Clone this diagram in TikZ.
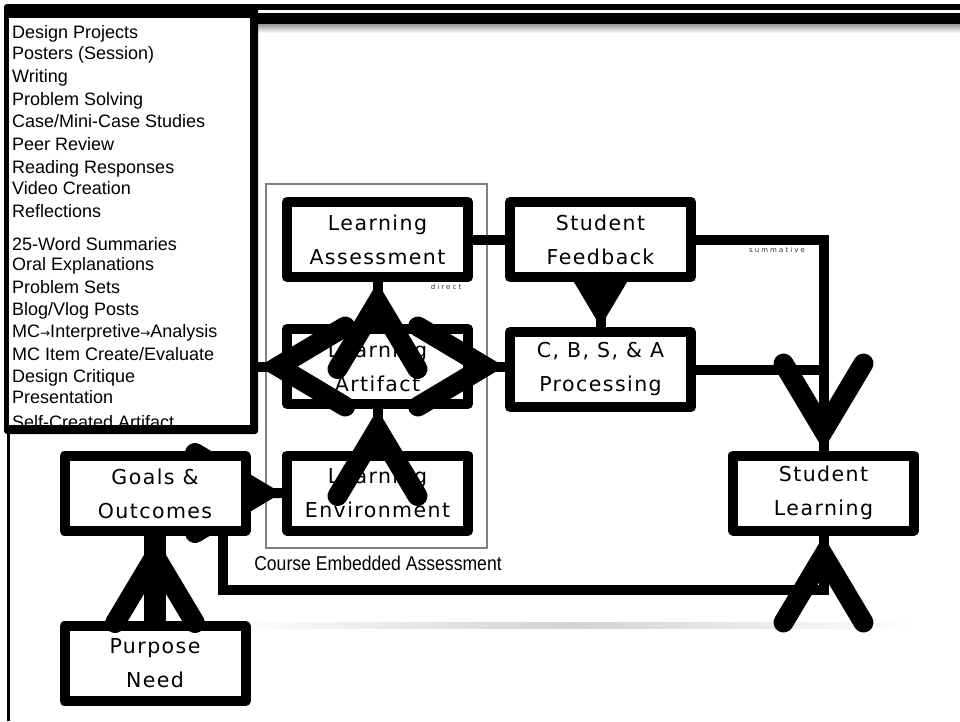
\documentclass[tikz,border=0pt]{standalone}
\usepackage{fontspec}
\setmainfont{Liberation Sans}
\newfontfamily\boxfont[LetterSpace=7]{DejaVu Sans}
\newfontfamily\tinyfont[LetterSpace=30]{DejaVu Sans}
\newfontfamily\listfont{Liberation Sans}
\newfontfamily\ceafont[FakeStretch=0.88]{Liberation Sans}
\newfontfamily\arrfont{DejaVu Sans}
\newcommand{\rarr}{{\arrfont\fontsize{12}{12}\selectfont →}}
\newcommand{\vhead}[2]{\draw[vhead, shift={(#1)}, rotate=#2] (-87,40) -- (-20,0) -- (-87,-40);}
\pgfdeclarelayer{bg}
\pgfsetlayers{bg,main}
\begin{document}
\begin{tikzpicture}[x=1pt,y=-1pt,
  box/.style={draw=black, line width=10pt, line join=round, fill=white,
    minimum width=181pt, minimum height=75pt, inner sep=0pt, align=center,
    font=\boxfont\fontsize{20.5}{34}\selectfont},
  conn/.style={line width=10pt, line join=miter},
  vhead/.style={line width=20pt, line cap=round, line join=miter},
  listline/.style={anchor=base west, inner sep=0pt, font=\listfont\fontsize{18}{18}\selectfont},
  tiny/.style={inner sep=0pt, text=black!80, font=\tinyfont\fontsize{7}{8}\selectfont}
]
\useasboundingbox (0,0) rectangle (960,721);

% boxes
\node[box] (LA)   at (377.5,239.5) {Learning\\Assessment};
\node[box] (LArt) at (377.5,366.5) {Learning\\Artifact};
\node[box] (LE)   at (377.5,493)   {Learning\\Environment};
\node[box] (GO)   at (155,493.5)   {Goals \&\\Outcomes};
\node[box] (PN)   at (155,663.5)   {Purpose\\Need};
\node[box] (SF)   at (600.5,239.5) {Student\\Feedback};
\node[box] (CB)   at (600.5,369.5) {C, B, S, \& A\\Processing};
\node[box] (SL)   at (823.5,493)   {Student\\Learning};

% list box
\node[fill=black, rounded corners=3pt, minimum width=254pt, minimum height=430pt, inner sep=0pt] (list) at (131,219) {};
\fill[white] (9,18) rectangle (250,425);
\begin{scope}
  \clip (9,18) rectangle (250,425);
  \foreach \i/\yy/\t in {1/38/{Design Projects}, 2/59/{Posters (Session)}, 3/82/{Writing},
     4/105/{Problem Solving}, 5/127/{Case/Mini-Case Studies}, 6/150/{Peer Review},
     7/173/{Reading Responses}, 8/194/{Video Creation}, 9/217/{Reflections},
     10/250/{25-Word Summaries}, 11/270/{Oral Explanations}, 12/293/{Problem Sets},
     13/315/{Blog/Vlog Posts}, 14/337/{MC\rarr Interpretive\rarr Analysis},
     15/360/{MC Item Create/Evaluate}, 16/382/{Design Critique}, 17/403/{Presentation},
     18/428/{Self-Created Artifact}}
    \node[listline] (l\i) at (12,\yy) {\t};
\end{scope}

% labels
\node[tiny] (direct) at (446,287) {direct};
\node[tiny] (summ) at (777,250) {summative};
\node[anchor=base, inner sep=0pt, font=\ceafont\fontsize{20}{20}\selectfont] (ceal) at (378,570) {Course Embedded Assessment};

\begin{pgfonlayer}{bg}
  \fill[white] (0,0) rectangle (960,721);
  % top bars
  \fill[black] (240,4) rectangle (960,10);
  \fill[black] (240,13) rectangle (960,24);
  \shade[top color=gray!80, bottom color=white] (257,24) rectangle (960,33);
  % frame line
  \draw[line width=3pt] (8,430) -- (8,721);
  % soft shadow line
  \shade[left color=white, right color=white, middle color=gray!35] (225,622) rectangle (915,628);
  % course embedded assessment frame
  \node[draw=gray, line width=2pt, minimum width=221pt, minimum height=364pt, inner sep=0pt] (cea) at (376.5,366) {};
  % connectors
  \draw[conn] (LA.east) -- (SF.west);
  \draw[conn] (SF.east) -| (SL.north);
  \draw[conn] (CB.east) -| (SL.north);
  \draw[conn] ([xshift=68pt]GO.south) -- ++(0,54) -| (SL.south);
  \draw[conn] (SF.south) -- (CB.north);
  \vhead{CB.north}{-90}
  \draw[conn] (GO.east) -- (LE.west);
  \vhead{LE.west}{0}
  \draw[line width=22pt] (PN.north) -- (GO.south);
\end{pgfonlayer}

% arrowheads on top
\vhead{GO.south}{90}
\draw[conn] (LE.north) -- (LArt.south);
\vhead{LArt.south}{90}
\draw[conn] (LArt.north) -- (LA.south);
\vhead{LA.south}{90}
\draw[conn] (LArt.west) -- (list.east |- LArt.west);
\vhead{list.east |- LArt.west}{180}
\draw[conn] (LArt.east) -- (CB.west |- LArt.east);
\vhead{CB.west |- LArt.east}{0}
\vhead{SL.north}{-90}
\vhead{SL.south}{90}
\end{tikzpicture}
\end{document}
